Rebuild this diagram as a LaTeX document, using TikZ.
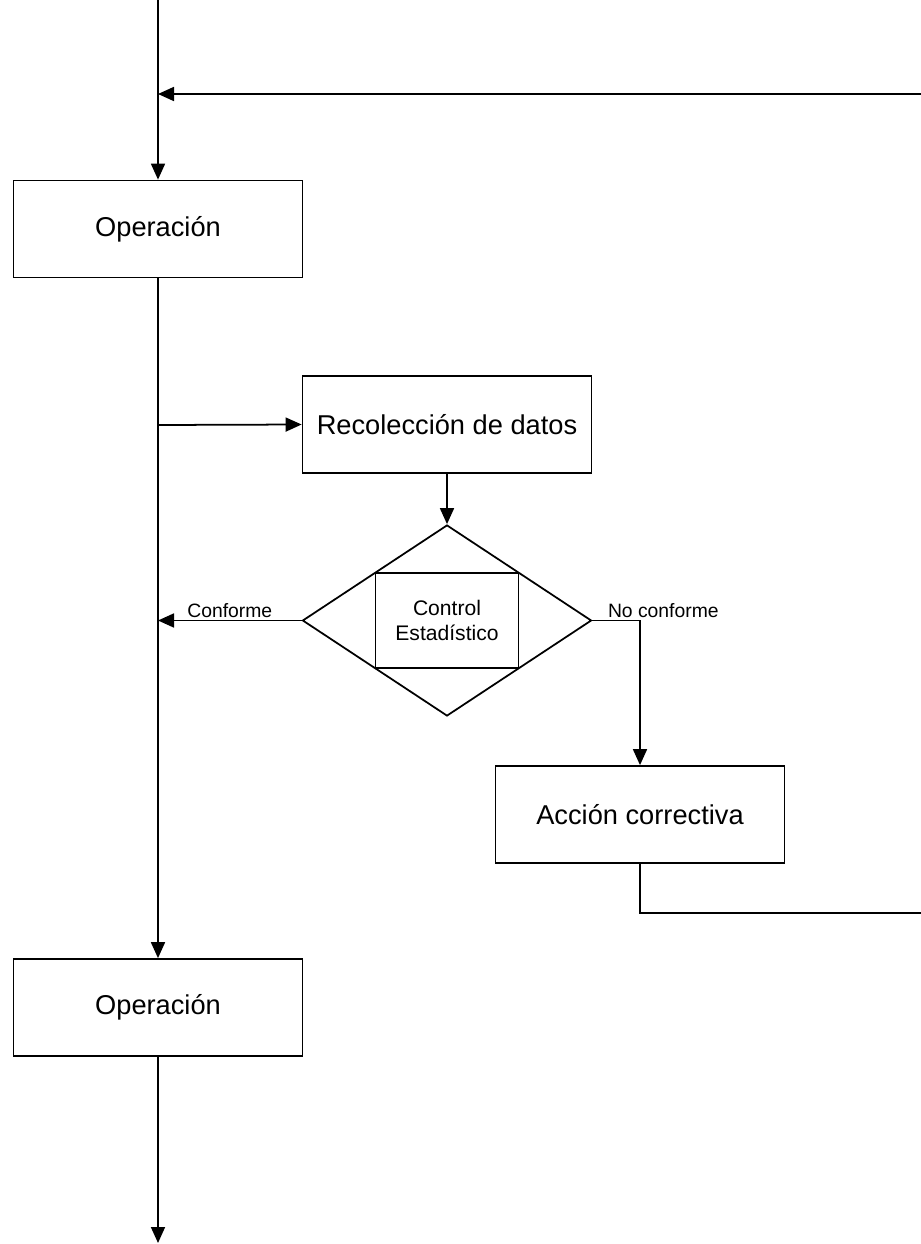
\documentclass[tikz,border=0pt]{standalone}
\usepackage{fontspec}
\setmainfont{Liberation Sans}
\usetikzlibrary{arrows.meta,shapes.geometric}
\begin{document}
\begin{tikzpicture}[line width=1pt,
  >={Triangle[length=0.32cm,width=0.28cm]},
  caja/.style={draw,rectangle,minimum width=5.78cm,minimum height=1.94cm,inner sep=0pt,font=\fontsize{15.5}{18}\selectfont},
  rombo/.style={draw,diamond,minimum width=5.78cm,minimum height=3.82cm,inner sep=0pt},
  etiq/.style={font=\fontsize{11}{13}\selectfont,inner sep=1pt}]
\useasboundingbox (0,0) rectangle (18.42,-24.88);
\coordinate (ini) at (3.16,0.);
\coordinate (ret) at (18.42,-1.88);
\coordinate (union) at (3.16,-1.88);
\coordinate (rama) at (3.16,-8.5);
\coordinate (conf) at (3.16,-12.41);
\coordinate (fin) at (18.42,-18.26);
\coordinate (sal) at (3.16,-24.86);
\node[caja] (op1) at (3.16,-4.58) {Operación};
\node[caja] (rec) at (8.94,-8.49) {Recolección de datos};
\node[rombo] (ctrl) at (8.94,-12.41) {};
\node[draw,rectangle,minimum width=2.86cm,minimum height=1.9cm,inner sep=0pt,align=center,font=\fontsize{12}{14}\selectfont] (est) at (8.94,-12.41) {Control\\Estadístico};
\node[caja] (acc) at (12.8,-16.29) {Acción correctiva};
\node[caja] (op2) at (3.16,-20.15) {Operación};
\draw[->] (ini) -- (op1.north);
\draw[->] (ret) -- (union);
\draw[->] (op1.south) -- (op2.north);
\draw[->] (rama) -- (rec.west);
\draw[->] (rec.south) -- (ctrl.north);
\draw[->] (ctrl.west) -- node[etiq,above] (lconf) {Conforme} (conf);
\draw[->] (ctrl.east) -| (acc.north);
\node[etiq,anchor=south west] (lnoconf) at ([xshift=0.26cm]ctrl.east) {No conforme};
\draw (acc.south) |- (fin);
\draw[->] (op2.south) -- (sal);
\end{tikzpicture}
\end{document}
